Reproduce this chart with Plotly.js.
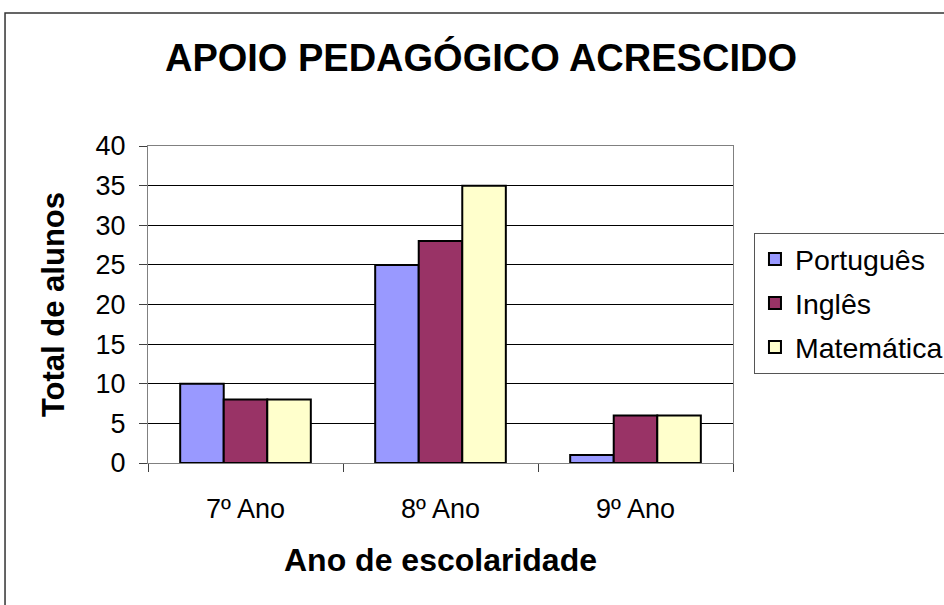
<!DOCTYPE html>
<html>
<head>
<meta charset="utf-8">
<script src="https://cdn.plot.ly/plotly-3.0.1.min.js"></script>
<style>html,body{margin:0;padding:0;background:#fff;}#chart{width:944px;height:605px;}</style>
</head>
<body>
<div id="chart"></div>
<script>
const categories = ['7º Ano', '8º Ano', '9º Ano'];
const seriesNames = ['Português', 'Inglês', 'Matemática'];
const portugues = [10, 25, 1];
const ingles = [8, 28, 6];
const matematica = [8, 35, 6];
const seriesColors = ['#9999FF', '#993366', '#FFFFCC'];
const yTickValues = [0, 5, 10, 15, 20, 25, 30, 35, 40];

const FONT = 'Liberation Sans, Arial, sans-serif';
const values = [portugues, ingles, matematica];
const traces = values.map((v, i) => ({
  type: 'bar',
  name: seriesNames[i],
  x: categories,
  y: v,
  legendgroup: 'g' + i,
  marker: {color: seriesColors[i], line: {color: '#000000', width: 2}},
  hoverinfo: 'x+y+name'
}));

const layout = {
  width: 944, height: 605,
  paper_bgcolor: '#ffffff', plot_bgcolor: '#ffffff',
  margin: {l: 148, r: 211, t: 146, b: 142, pad: 0},
  font: {family: FONT, color: '#000000', size: 27},
  title: {text: '<b>APOIO PEDAGÓGICO ACRESCIDO</b>', font: {family: FONT, size: 38, color: '#000'},
          x: 0.5095, xanchor: 'center', y: 0.905, yanchor: 'middle', xref: 'container', yref: 'container'},
  barmode: 'group', bargap: 0.33, bargroupgap: 0,
  showlegend: true,
  legend: {xref: 'container', yref: 'container', x: 0.7987, xanchor: 'left', y: 0.6149, yanchor: 'top', bgcolor: '#fff',
           bordercolor: '#555', borderwidth: 1, font: {family: FONT, size: 28.5, color: '#000'},
           traceorder: 'grouped', tracegroupgap: 4, itemwidth: 30},
  xaxis: {
    type: 'category', tickson: 'boundaries', ticks: 'outside', ticklen: 8, tickcolor: '#404040', tickwidth: 1,
    showline: true, linecolor: '#808080', linewidth: 1, mirror: true,
    showgrid: false, zeroline: false, ticklabelstandoff: 22,
    tickfont: {family: FONT, size: 27, color: '#000'},
    title: {text: '<b>Ano de escolaridade</b>', font: {family: FONT, size: 32, color: '#000'}, standoff: 25},
    automargin: false, fixedrange: true
  },
  yaxis: {
    range: [0, 40], tickvals: yTickValues, ticks: 'outside', ticklen: 8, tickcolor: '#404040', tickwidth: 1,
    showline: true, linecolor: '#808080', linewidth: 1, mirror: true,
    showgrid: true, gridcolor: '#000000', gridwidth: 1, zeroline: false, ticklabelstandoff: 8,
    tickfont: {family: FONT, size: 27, color: '#000'},
    title: {text: '<b>Total de alunos</b>', font: {family: FONT, size: 31, color: '#000'}, standoff: 21},
    automargin: false, fixedrange: true
  },
  shapes: [
    {type: 'rect', xref: 'paper', yref: 'paper', x0: -0.2444, x1: 1.6, y0: -0.7, y1: 1.4196,
     line: {color: '#333333', width: 1.5}, fillcolor: 'rgba(0,0,0,0)', layer: 'below'}
  ]
};

Plotly.newPlot('chart', traces, layout, {displayModeBar: false, staticPlot: true});
</script>
</body>
</html>
